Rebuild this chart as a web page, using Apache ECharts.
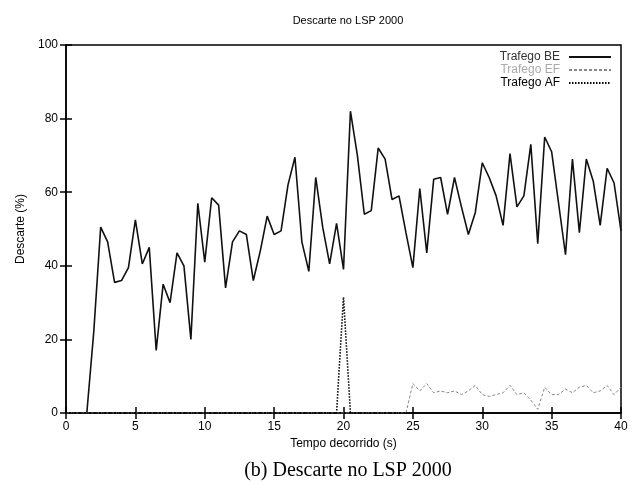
<!DOCTYPE html>
<html>
<head>
<meta charset="utf-8">
<script src="https://cdn.jsdelivr.net/npm/echarts@6/dist/echarts.min.js"></script>
<style>html,body{margin:0;padding:0;background:#fff}#c{width:633px;height:484px}</style>
</head>
<body>
<div id="c"></div>
<script>
// time step 0.5 s, from 0 to 40
var times = [];
for (var k = 0; k <= 80; k++) times.push(k * 0.5);

var beValues = [0,0,0,0,22,50.5,46.5,35.5,36,39.5,
  52.5,40.5,45,17,35,30,43.5,40,20,57,
  41,58.5,56.5,34,46.5,49.5,48.5,36,44,53.5,
  48.5,49.5,62,69.5,46.5,38.5,64,50.5,40.5,51.5,
  39,82,70,54,55,72,69,58,59,49,
  39.5,61,43.5,63.5,64,54,64,56,48.5,54.5,
  68,64,59,51,70.5,56,59,73,46,75,
  71,57,43,69,49,69,63,51,66.5,62.5,
  49.5];

// EF from t = 0 .. 40 (zero before 25 s)
var efValues = [0,0,0,0,0,0,0,0,0,0,
  0,0,0,0,0,0,0,0,0,0,
  0,0,0,0,0,0,0,0,0,0,
  0,0,0,0,0,0,0,0,0,0,
  0,0,0,0,0,0,0,0,0,0,
  8,6,8,5.5,6,5.5,6,5,6,7.5,
  5,4.5,5,5.5,7.5,5,5.5,3.5,1,7,
  5,5,6.5,5.5,7,7.5,5.5,6,7.5,5,
  7];

// AF: zero except the spike at 20 s
var afValues = [0,0,0,0,0,0,0,0,0,0,
  0,0,0,0,0,0,0,0,0,0,
  0,0,0,0,0,0,0,0,0,0,
  0,0,0,0,0,0,0,0,0,0,
  31.5,0,0,0,0,0,0,0,0,0,
  0,0,0,0,0,0,0,0,0,0,
  0,0,0,0,0,0,0,0,0,0,
  0,0,0,0,0,0,0,0,0,0,
  0];

var xTicks = [0,5,10,15,20,25,30,35,40];
var yTicks = [0,20,40,60,80,100];

function pairs(vals){ return times.map(function(t,i){ return [t, vals[i]]; }); }

var chart = echarts.init(document.getElementById('c'));
var tickStyle = {show:true, inside:true, length:6, lineStyle:{color:'#000', width:1.5}};
var labelFont = {fontFamily:'Liberation Sans, Arial, sans-serif', fontSize:12, color:'#000'};
chart.setOption({
  animation:false,
  backgroundColor:'#fff',
  title:[
    {text:'Descarte no LSP 2000', left:343, top:10, textAlign:'center',
     textStyle:{fontFamily:'Liberation Sans, Arial, sans-serif', fontSize:11, fontWeight:'normal', color:'#000'}},
    {text:'(b) Descarte no LSP 2000', left:343, top:456, textAlign:'center',
     textStyle:{fontFamily:'Liberation Serif, Times New Roman, serif', fontSize:20, fontWeight:'normal', color:'#000'}}
  ],
  grid:{left:66, right:12, top:45, bottom:71, show:true, borderColor:'#000', borderWidth:1.5, backgroundColor:'transparent'},
  legend:{
    right:16, top:46, orient:'vertical', align:'right', itemGap:1,
    itemWidth:42, itemHeight:11,
    itemStyle:{opacity:0},
    textStyle:{fontFamily:'Liberation Sans, Arial, sans-serif', fontSize:12, padding:[0,4,0,0]},
    data:[
      {name:'Trafego BE', textStyle:{color:'#333'}},
      {name:'Trafego EF', textStyle:{color:'#aaa'}},
      {name:'Trafego AF', textStyle:{color:'#000'}}
    ]
  },
  xAxis:[
    {type:'value', min:0, max:40, interval:5, position:'bottom',
     name:'Tempo decorrido (s)', nameLocation:'middle', nameGap:25,
     nameTextStyle:labelFont,
     axisLine:{show:true, lineStyle:{color:'#000', width:1.5}},
     axisTick:tickStyle, splitLine:{show:false},
     axisLabel:Object.assign({margin:8}, labelFont)},
    {type:'value', min:0, max:40, interval:5, position:'top',
     axisLine:{show:false}, axisTick:tickStyle, axisLabel:{show:false}, splitLine:{show:false}}
  ],
  yAxis:[
    {type:'value', min:0, max:100, interval:20, position:'left',
     name:'Descarte (%)', nameLocation:'middle', nameGap:37, nameRotate:90,
     nameTextStyle:labelFont,
     axisLine:{show:true, lineStyle:{color:'#000', width:1.5}},
     axisTick:tickStyle, splitLine:{show:false},
     axisLabel:Object.assign({margin:8}, labelFont)},
    {type:'value', min:0, max:100, interval:20, position:'right',
     axisLine:{show:false}, axisTick:tickStyle, axisLabel:{show:false}, splitLine:{show:false}}
  ],
  series:[
    {name:'Trafego BE', type:'line', data:pairs(beValues), showSymbol:false, symbol:'none',
     lineStyle:{color:'#111', width:1.6, type:'solid'}, itemStyle:{color:'#111'}},
    {name:'Trafego EF', type:'line', data:pairs(efValues), showSymbol:false, symbol:'none',
     lineStyle:{color:'#888', width:1, type:[3,2]}, itemStyle:{color:'#888'}},
    {name:'Trafego AF', type:'line', data:pairs(afValues), showSymbol:false, symbol:'none',
     lineStyle:{color:'#000', width:1.6, type:[1.5,1.5]}, itemStyle:{color:'#000'}}
  ]
});
</script>
</body>
</html>
